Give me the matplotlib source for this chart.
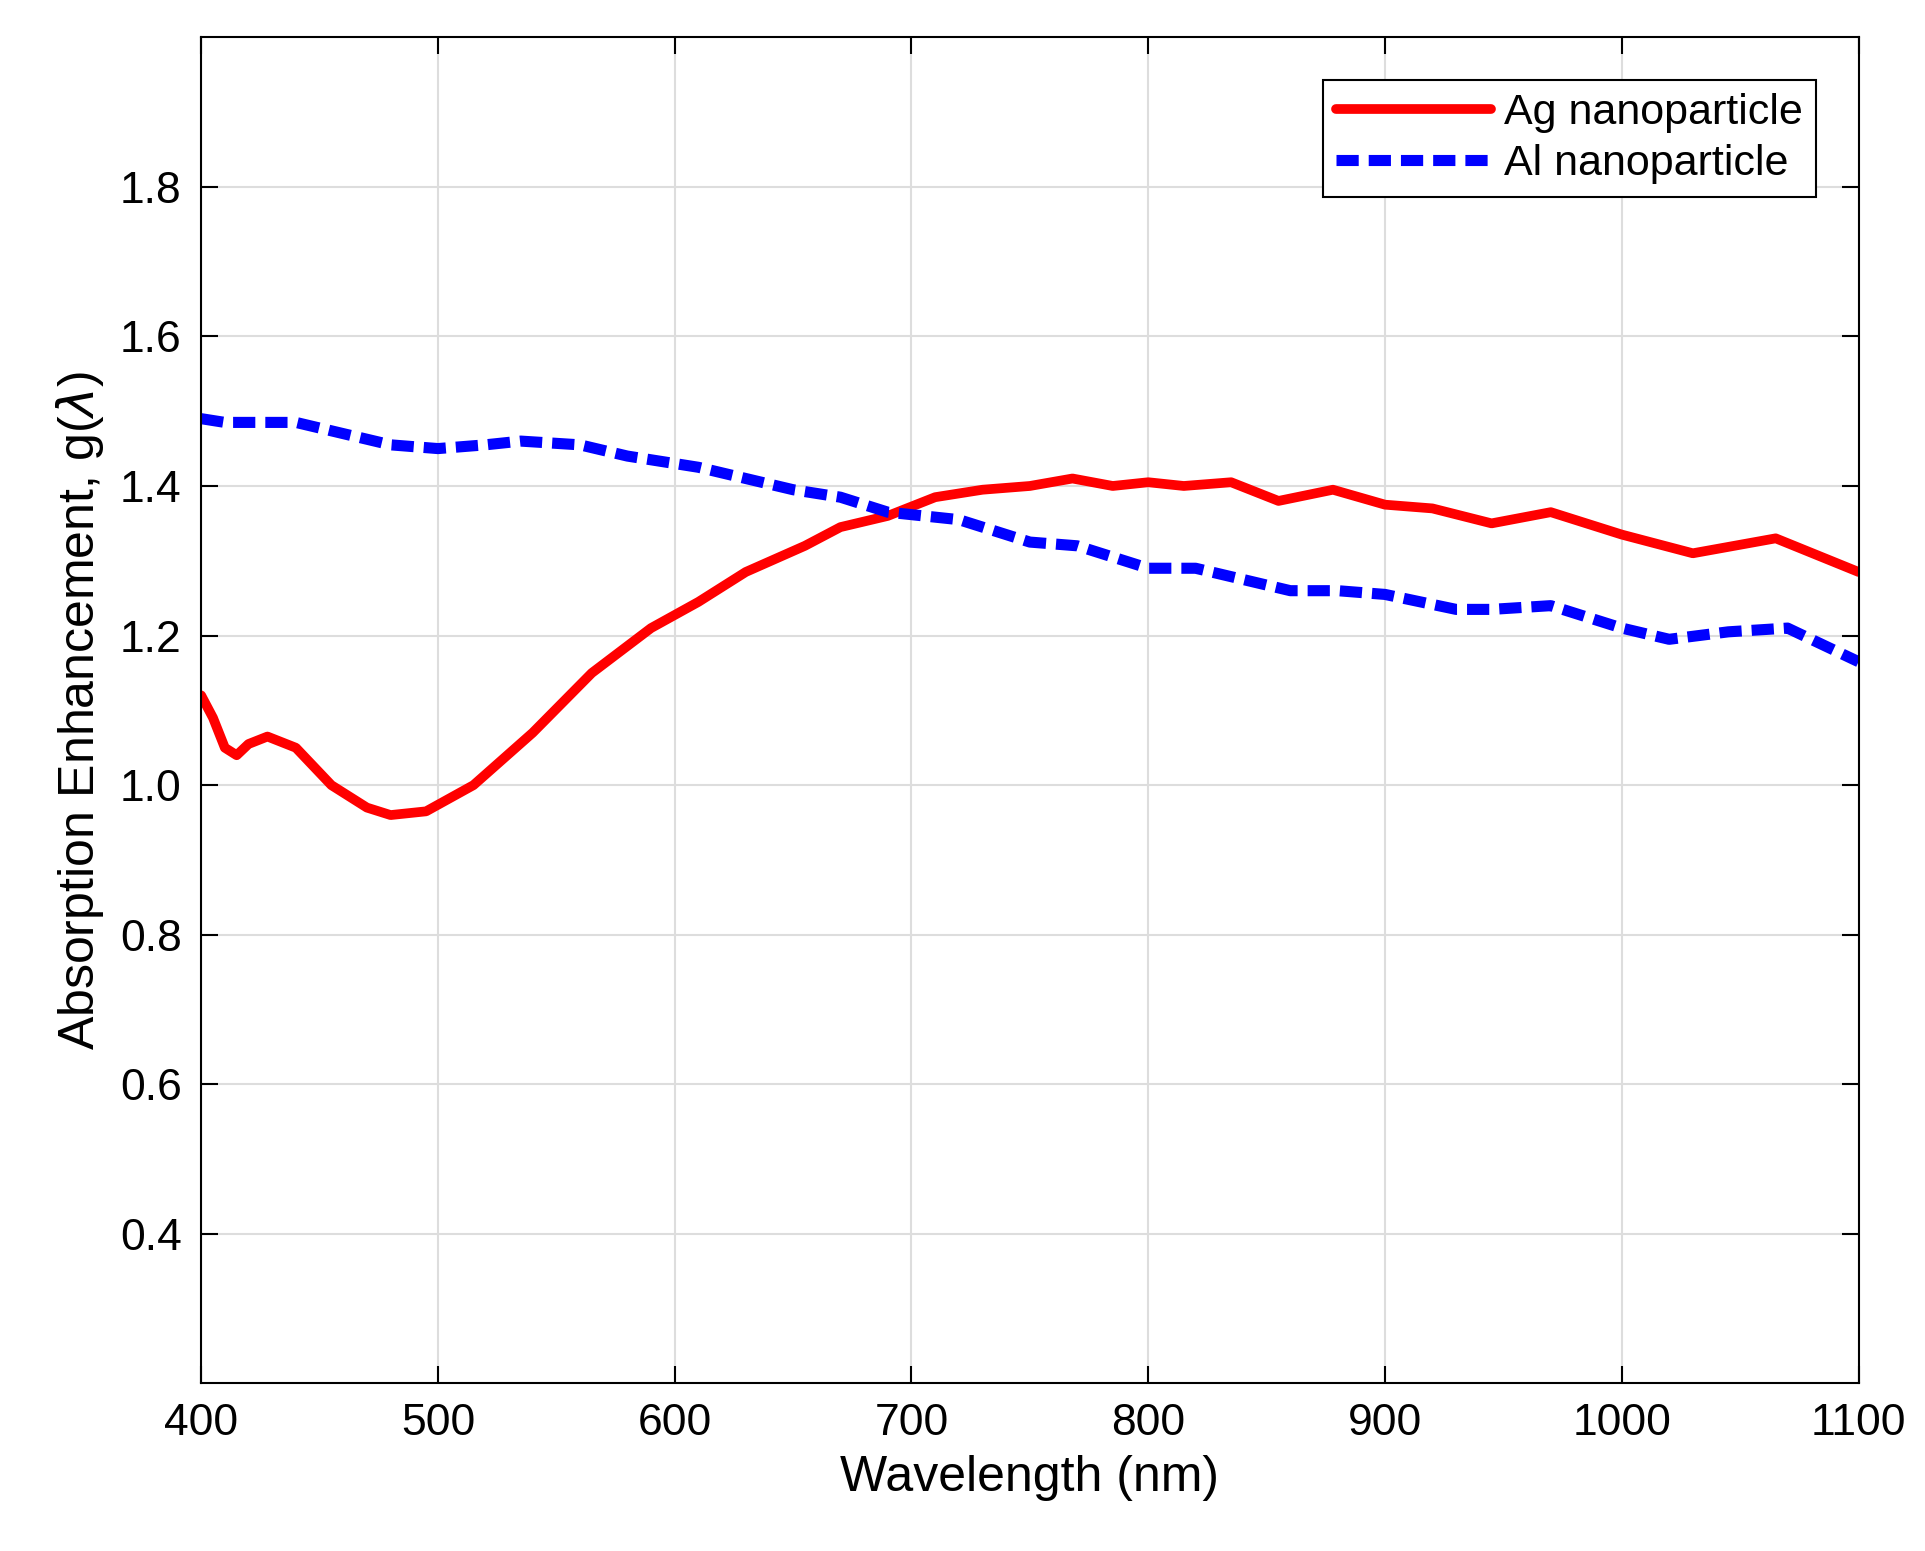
import matplotlib.pyplot as plt

plt.rcParams['font.family'] = ['Liberation Sans', 'DejaVu Sans']

ag_x = [400, 405, 410, 415, 420, 428, 440, 455, 470, 480, 495, 515, 540, 565, 590, 610, 630, 655, 670,
        690, 710, 730, 750, 768, 785, 800, 815, 835, 855, 878, 900, 920, 945, 970, 1000, 1030, 1065, 1100]
ag_y = [1.12, 1.09, 1.05, 1.04, 1.055, 1.065, 1.05, 1.0, 0.97, 0.96, 0.965, 1.0, 1.07, 1.15, 1.21,
        1.245, 1.285, 1.32, 1.345, 1.36, 1.385, 1.395, 1.40, 1.41, 1.40, 1.405, 1.40, 1.405, 1.38,
        1.395, 1.375, 1.37, 1.35, 1.365, 1.335, 1.31, 1.33, 1.285]
al_x = [400, 410, 440, 480, 500, 520, 535, 560, 580, 610, 630, 650, 670, 690, 720, 750, 770, 800,
        820, 840, 860, 880, 900, 930, 945, 970, 1000, 1020, 1045, 1070, 1100]
al_y = [1.49, 1.485, 1.485, 1.455, 1.45, 1.455, 1.46, 1.455, 1.44, 1.425, 1.41, 1.395, 1.385,
        1.365, 1.355, 1.325, 1.32, 1.29, 1.29, 1.275, 1.26, 1.26, 1.255, 1.235, 1.235, 1.24,
        1.21, 1.195, 1.205, 1.21, 1.165]

fig = plt.figure(figsize=(19.25, 15.51), dpi=100)
ax = fig.add_axes([0.1045, 0.108, 0.861, 0.868])
ax.plot(ag_x, ag_y, color='red', lw=7, solid_joinstyle='round', solid_capstyle='round',
        label='Ag nanoparticle')
ax.plot(al_x, al_y, color='blue', lw=8, ls=(0, (2.0, 0.9)), dash_joinstyle='round',
        label='Al nanoparticle')
ax.set_xlim(400, 1100)
ax.set_ylim(0.2, 2.0)
ax.set_xticks(range(400, 1101, 100))
ax.set_yticks([0.4, 0.6, 0.8, 1.0, 1.2, 1.4, 1.6, 1.8])
ax.set_yticklabels(['0.4', '0.6', '0.8', '1.0', '1.2', '1.4', '1.6', '1.8'])
ax.grid(True, color='#dddddd', lw=1.5)
ax.tick_params(direction='in', top=True, right=True, labelsize=32, length=12, width=1.5, pad=14)
for s in ax.spines.values():
    s.set_linewidth(1.5)
ax.set_xlabel('Wavelength (nm)', fontsize=36, labelpad=8)
ax.set_ylabel(r'Absorption Enhancement, g($\lambda$)', fontsize=36, labelpad=10)
leg = ax.legend(loc='upper right', fontsize=31, fancybox=False, edgecolor='black',
                framealpha=1, handlelength=3.6, borderaxespad=1.0, borderpad=0.3,
                labelspacing=0.25, handletextpad=0.3)
leg.get_frame().set_linewidth(1.5)
fig.savefig('out.png')
